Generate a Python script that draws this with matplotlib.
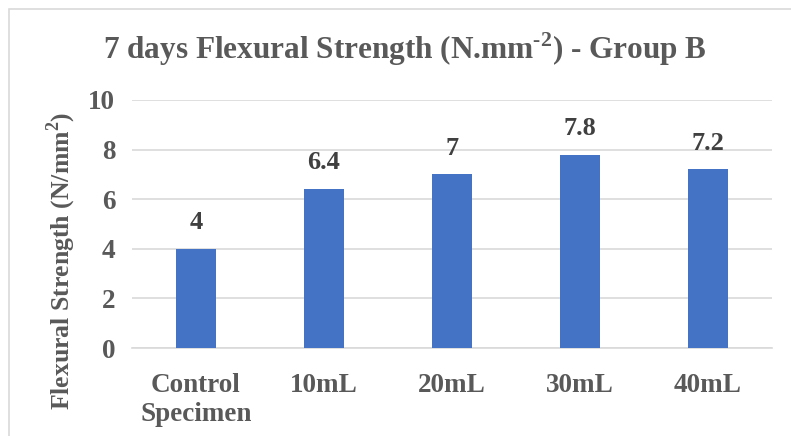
import matplotlib.pyplot as plt
from matplotlib.patches import Rectangle
import numpy as np

# values
categories = ["Control\nSpecimen", "10mL", "20mL", "30mL", "40mL"]
strength = [4, 6.4, 7, 7.8, 7.2]
value_labels = ["4", "6.4", "7", "7.8", "7.2"]
y_ticks = [0, 2, 4, 6, 8, 10]

plt.rcParams['font.family'] = ['Liberation Serif', 'DejaVu Serif']
plt.rcParams['mathtext.fontset'] = 'custom'
plt.rcParams['mathtext.rm'] = 'Liberation Serif:bold'
plt.rcParams['mathtext.bf'] = 'Liberation Serif:bold'
text_col = "#595959"

fig = plt.figure(figsize=(7.91, 4.36), dpi=100)
ax = fig.add_axes([132 / 791, 1 - 348 / 436, 640 / 791, 248 / 436])

# light frame around the chart area, cut off at right and bottom like the source
fig.patches.append(Rectangle((9 / 791, -0.1), 1.2, 1 - 9 / 436 + 0.1, transform=fig.transFigure,
                             fill=False, edgecolor="#d9d9d9", linewidth=1.2))

x = np.arange(len(categories))
ax.bar(x, strength, width=0.3125, color="#4472C4", zorder=3)
for xi, v, lab in zip(x, strength, value_labels):
    ax.text(xi, v + 0.6, lab, ha="center", va="bottom", fontsize=19,
            fontweight="bold", color="#404040")

ax.set_xlim(-0.5, len(categories) - 0.5)
ax.set_ylim(0, 10)
ax.set_yticks(y_ticks)
ax.set_xticks(x)
ax.set_xticklabels(categories, fontsize=19.5, fontweight="bold", color=text_col, linespacing=1.2)
ax.set_yticklabels([str(t) for t in y_ticks], fontsize=19.5, fontweight="bold", color=text_col)
ax.tick_params(length=0, pad=12)
ax.tick_params(axis="x", pad=18)
ax.grid(axis="y", color="#d9d9d9", linewidth=1.2, zorder=0)
for s in ["top", "right", "left"]:
    ax.spines[s].set_visible(False)
ax.spines["bottom"].set_color("#d9d9d9")
ax.spines["bottom"].set_linewidth(1.2)

ax.set_ylabel("Flexural Strength (N/mm$^{2}$)", fontsize=18.5, fontweight="bold",
              color=text_col)
ax.yaxis.set_label_coords(-0.085, 0.35)
fig.text(405 / 791, 1 - 49 / 436, r"7 days Flexural Strength (N.mm$^{\text{-2}}$) - Group B",
         ha="center", va="center", fontsize=22.5, fontweight="bold", color=text_col)

fig.savefig("out.png", dpi=100)
